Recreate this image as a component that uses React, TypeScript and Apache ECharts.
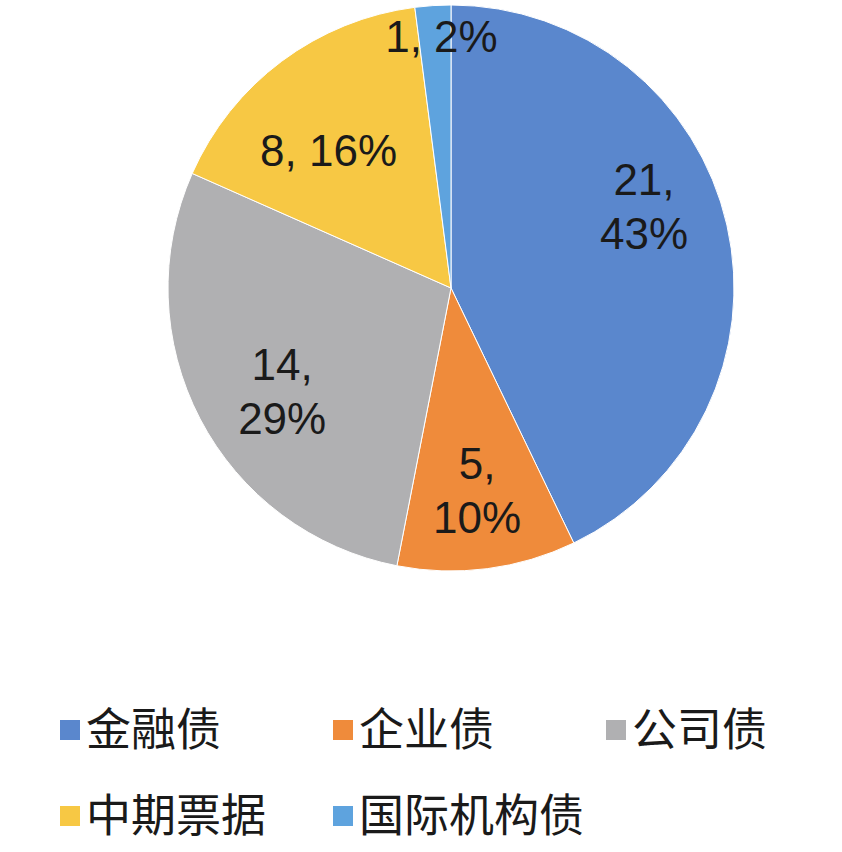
import { useEffect, useRef } from 'react';
import * as echarts from 'echarts';

const categories = ['金融债', '企业债', '公司债', '中期票据', '国际机构债'];
const values = [21, 5, 14, 8, 1];
const colors = ['#5A87CD', '#EF8B3B', '#B0B0B2', '#F7C844', '#5EA3DE'];
// two-line labels for the larger slices
const wrapLabel = [true, true, true, false, false];
// label placement: [angle shift in degrees, distance as share of radius]
const labelPlace: [number, number][] = [
  [-10, 0.74],
  [0, 0.72],
  [-4, 0.7],
  [-5, 0.65],
  [1.5, 0.89],
];

const CX = 451;
const CY = 288;
const R = 283;
const FONT = '"Liberation Sans", Arial, "Noto Sans CJK SC", sans-serif';

export default function App(): JSX.Element {
  const chartRef = useRef<HTMLDivElement>(null);

  useEffect(() => {
    document.body.style.margin = '0';
    if (!chartRef.current) return;
    const chart = echarts.init(chartRef.current, null, { renderer: 'svg' });

    const total = values.reduce((a, b) => a + b, 0);
    const midAngles: number[] = [];
    let acc = 0;
    values.forEach((v) => {
      midAngles.push(((acc + v / 2) / total) * 360);
      acc += v;
    });

    const legendBase = {
      left: 58,
      width: 784,
      padding: 0,
      orient: 'horizontal' as const,
      itemWidth: 22,
      itemHeight: 22,
      itemGap: 45,
      icon: 'rect',
      selectedMode: false,
      textStyle: {
        fontSize: 45,
        lineHeight: 48,
        color: '#1a1a1a',
        fontFamily: FONT,
        width: 200,
      },
    };

    const option: echarts.EChartsOption = {
      animation: false,
      backgroundColor: '#ffffff',
      color: colors,
      legend: [
        { ...legendBase, data: categories.slice(0, 3), top: 706 },
        { ...legendBase, data: categories.slice(3), top: 792 },
      ],
      series: [
        {
          type: 'pie',
          center: [CX, CY],
          radius: [0, R],
          startAngle: 90,
          clockwise: true,
          percentPrecision: 0,
          avoidLabelOverlap: false,
          itemStyle: {
            borderColor: '#ffffff',
            borderWidth: 1,
          },
          label: {
            show: true,
            position: 'inside',
            fontSize: 44,
            lineHeight: 54,
            color: '#1a1a1a',
            fontFamily: FONT,
            align: 'center',
          },
          labelLine: { show: false },
          labelLayout: (params: any) => {
            const i = params.dataIndex;
            const [shift, frac] = labelPlace[i];
            const a = ((midAngles[i] + shift) * Math.PI) / 180;
            return {
              x: CX + frac * R * Math.sin(a),
              y: CY - frac * R * Math.cos(a),
              align: 'center',
              verticalAlign: 'middle',
            };
          },
          data: categories.map((name, i) => ({
            name,
            value: values[i],
            label: {
              formatter: wrapLabel[i] ? '{c},\n{d}%' : '{c}, {d}%',
            },
          })),
        },
      ],
    };

    chart.setOption(option);

    return () => {
      chart.dispose();
    };
  }, []);

  return <div ref={chartRef} style={{ width: 842, height: 852 }} />;
}
